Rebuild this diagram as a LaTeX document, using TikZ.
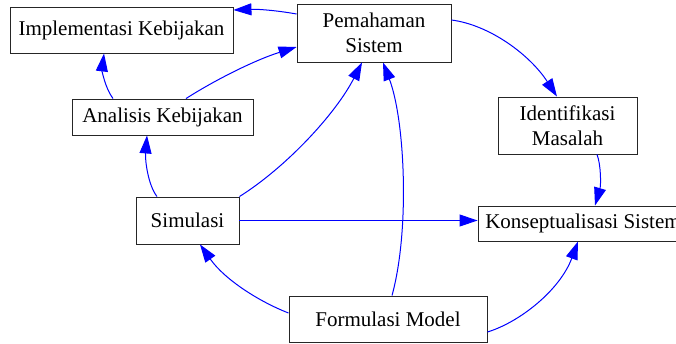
\documentclass[tikz,border=0pt]{standalone}
\usepackage{fontspec}
\setmainfont{Liberation Serif}
\usetikzlibrary{arrows.meta}
\begin{document}
\begin{tikzpicture}[x=1pt,y=-1pt,
  box/.style={draw=black!85, line width=0.9pt, fill=white, inner sep=0pt,
    align=center, font=\fontsize{21}{25}\selectfont},
  link/.style={draw=blue, line width=1pt,
    -{Triangle[length=18pt,width=12pt]}}]
  \clip (0,0) rectangle (676,343);
  \fill[white] (0,0) rectangle (676,343);

  % process steps
  \node[box, minimum width=223pt, minimum height=46pt] (impl) at (121.5,30) {Implementasi Kebijakan};
  \node[box, minimum width=154pt, minimum height=58pt] (pem) at (374,33) {Pemahaman\\Sistem};
  \node[box, minimum width=139pt, minimum height=57pt] (ident) at (567.5,125.5) {Identifikasi\\Masalah};
  \node[box, minimum width=181pt, minimum height=36pt] (ana) at (162.5,117) {Analisis Kebijakan};
  \node[box, minimum width=103pt, minimum height=47pt] (sim) at (187.5,220.5) {Simulasi};
  \node[box, minimum width=210pt, minimum height=35pt] (kons) at (583,223.5) {Konseptualisasi Sistem};
  \node[box, minimum width=198pt, minimum height=46pt] (form) at (388,319) {Formulasi Model};

  % connectors
  \draw[link] (pem.west |- 0,14) .. controls (280,11) and (260,9) .. (impl.east |- 0,10);
  \draw[link] (ana.north -| 113,0) .. controls (105,88) and (102,70) .. (impl.south -| 104,0);
  \draw[link] (ana.north -| 186,0) .. controls (215,80) and (255,60) .. (pem.west |- 0,47);
  \draw[link] (sim.north -| 157,0) .. controls (148,185) and (145,160) .. (ana.south -| 147,0);
  \draw[link] (sim.north east) .. controls (285,168) and (335,115) .. (pem.south -| 362,0);
  \draw[link] (sim.east) -- (kons.west |- sim.east);
  \draw[link] (form.west |- 0,313) .. controls (260,302) and (225,280) .. (sim.south -| 200,0);
  \draw[link] (form.north -| 392,0) .. controls (410,230) and (405,120) .. (pem.south -| 383,0);
  \draw[link] (form.east |- 0,332) .. controls (520,322) and (560,290) .. (kons.south -| 578,0);
  \draw[link] (pem.east |- 0,20) .. controls (490,25) and (530,55) .. (ident.north -| 557,0);
  \draw[link] (ident.south -| 597,0) .. controls (601,165) and (601,185) .. (kons.north -| 595,0);
\end{tikzpicture}
\end{document}
